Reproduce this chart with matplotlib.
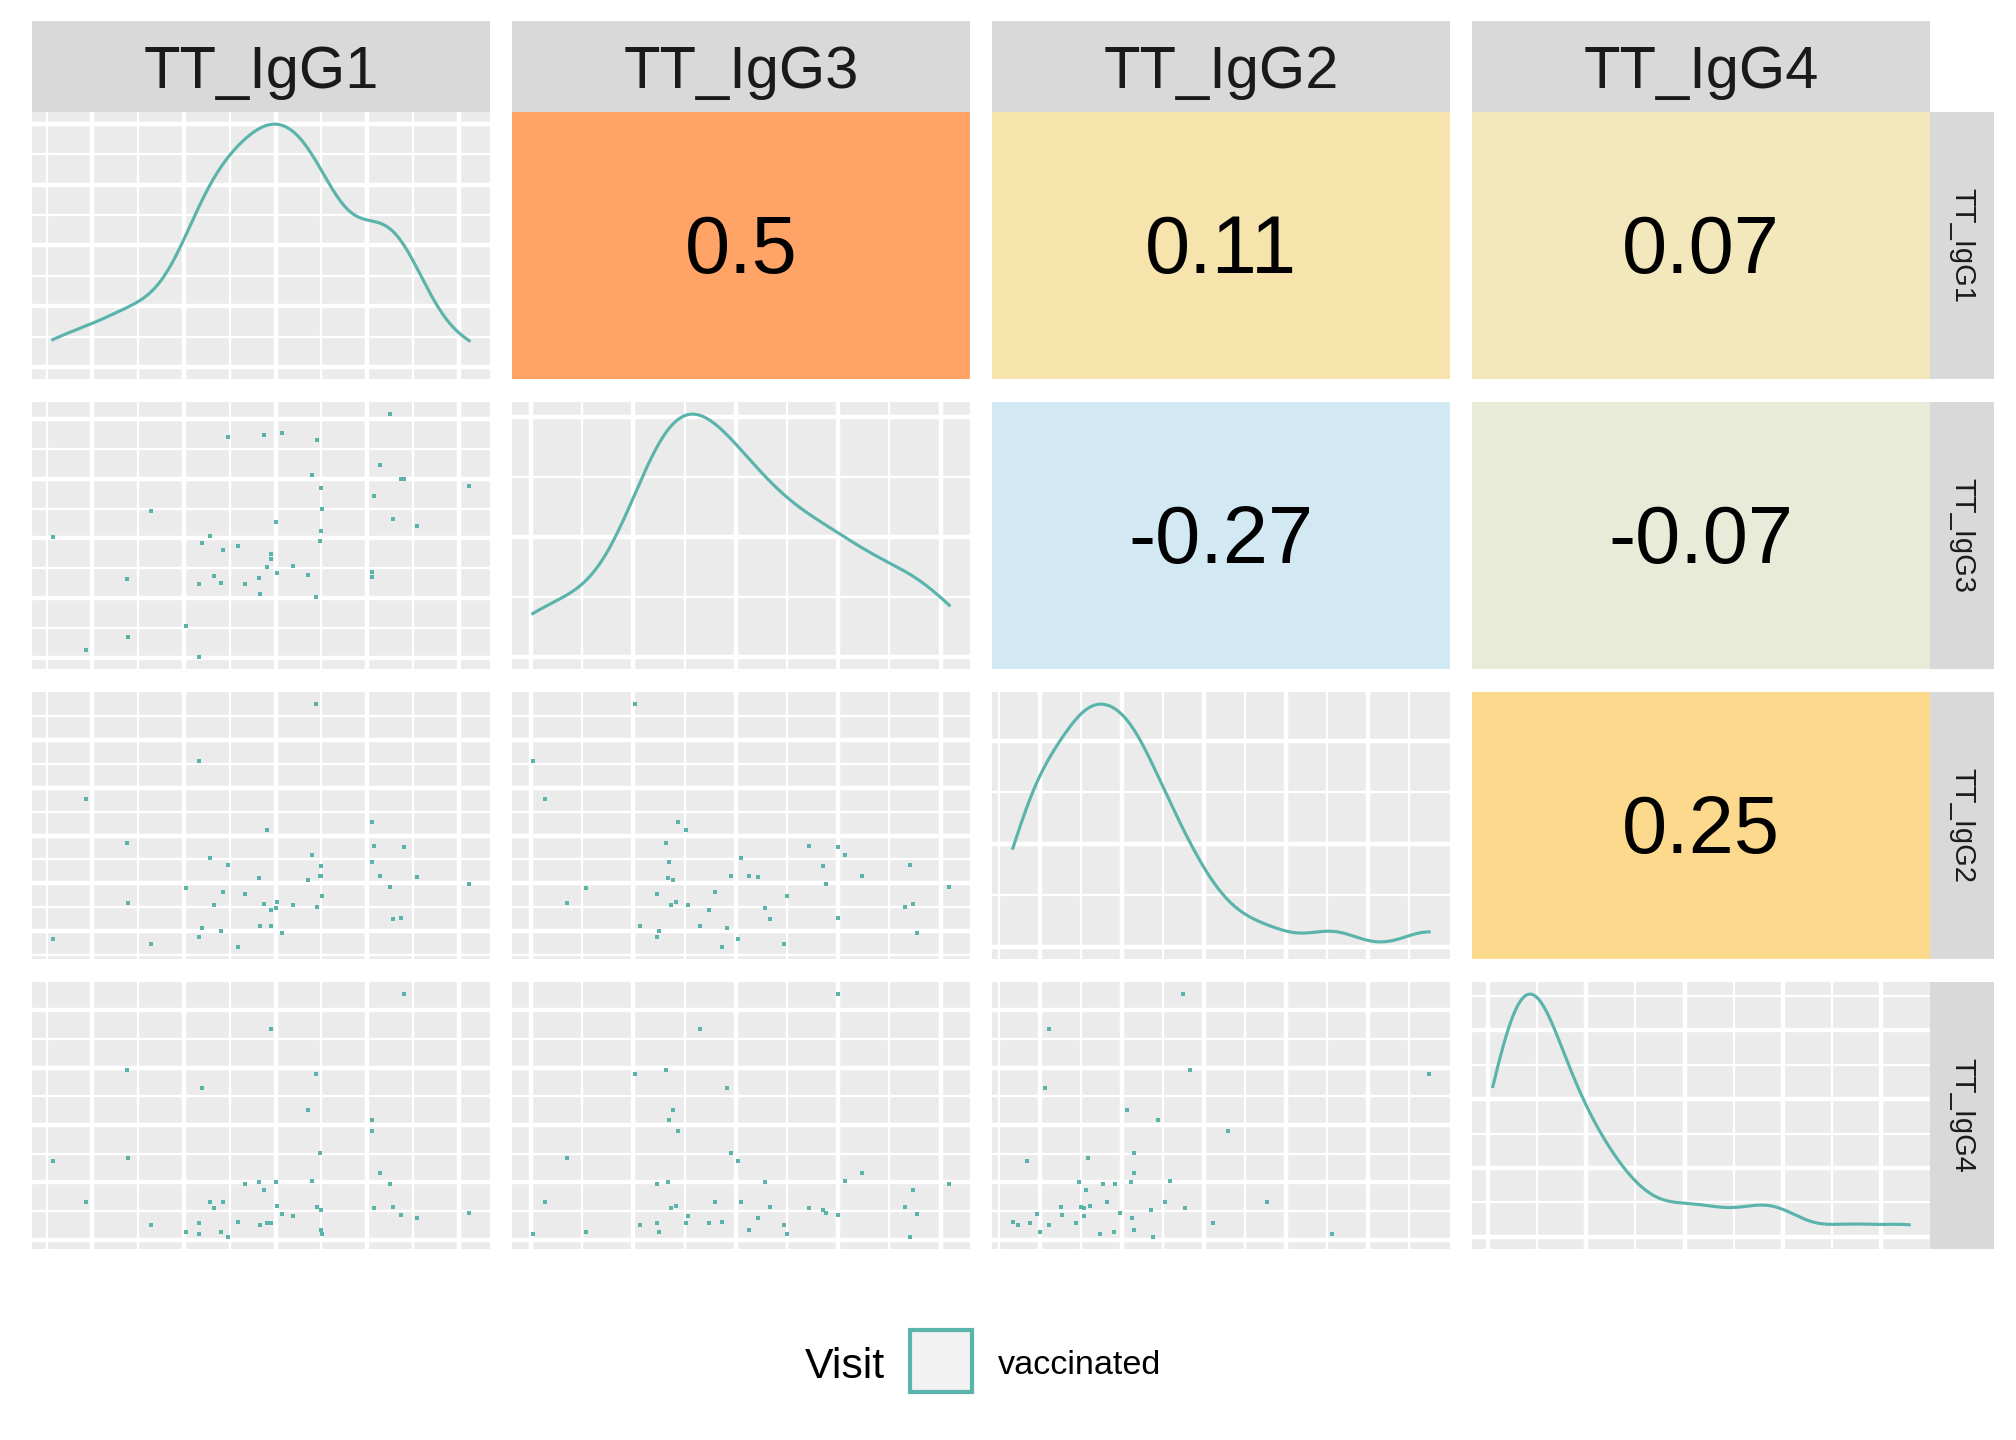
import numpy as np
import matplotlib
matplotlib.use("Agg")
import matplotlib.pyplot as plt
from matplotlib.patches import Rectangle
from matplotlib.ticker import MaxNLocator

plt.rcParams['font.family'] = ['Liberation Sans', 'DejaVu Sans']

# variables (order of the pairs matrix)
var_names = ["TT_IgG1", "TT_IgG3", "TT_IgG2", "TT_IgG4"]

# values (same subjects in every array)
igg1 = [0.567, 0.927, 1.375, 1.386, 1.638, 2.020, 2.162, 2.162, 2.195, 2.282,
        2.326, 2.403, 2.424, 2.479, 2.588, 2.665, 2.818, 2.829, 2.872, 2.905,
        2.949, 2.949, 3.004, 3.015, 3.069, 3.189, 3.353, 3.397, 3.441, 3.452,
        3.485, 3.495, 3.495, 3.506, 4.053, 4.053, 4.075, 4.140, 4.250, 4.282,
        4.370, 4.403, 4.545, 5.113]
igg3 = [3.017, 1.133, 2.317, 1.350, 3.467, 1.533, 1.017, 2.233, 2.917, 3.050,
        2.367, 2.250, 2.800, 4.700, 2.867, 2.233, 2.333, 2.067, 4.733, 2.517,
        2.733, 2.650, 3.283, 2.417, 4.767, 2.533, 2.383, 4.067, 2.017, 4.650,
        2.950, 3.850, 3.133, 3.500, 2.433, 2.350, 3.717, 4.233, 5.083, 3.333,
        4.000, 4.000, 3.217, 3.883]
igg2 = [0.841, 3.772, 2.836, 1.589, 0.737, 1.901, 4.562, 0.882, 1.069, 2.525,
        1.547, 1.007, 1.818, 2.379, 0.674, 1.776, 2.109, 1.111, 1.568, 3.107,
        1.444, 1.111, 1.485, 1.610, 0.965, 1.547, 2.067, 2.587, 5.747, 1.506,
        2.150, 2.358, 2.150, 1.735, 3.294, 2.441, 2.774, 2.150, 1.922, 1.256,
        1.277, 2.753, 2.130, 1.984]
igg4 = [2.370, 1.659, 3.965, 2.422, 1.260, 1.139, 1.104, 1.295, 3.653, 1.659,
        1.555, 1.139, 1.659, 1.052, 1.312, 1.971, 2.006, 1.260, 1.867, 1.295,
        1.295, 4.676, 2.006, 1.590, 1.451, 1.416, 3.272, 2.023, 3.896, 1.572,
        2.509, 1.520, 1.173, 1.104, 2.890, 3.081, 1.555, 2.162, 1.971, 1.572,
        1.434, 5.283, 1.382, 1.468]

# correlations shown in the upper triangle: (row, col, value)
corr_cells = [(0, 1, 0.5), (0, 2, 0.11), (0, 3, 0.07),
              (1, 2, -0.27), (1, 3, -0.07), (2, 3, 0.25)]
corr_fill = ["#FFA366", "#F7E4AD", "#F2E8BC", "#D2E9F3", "#E8EBD7", "#FCD98C"]

legend_title = "Visit"
legend_label = "vaccinated"

data = [np.array(igg1), np.array(igg3), np.array(igg2), np.array(igg4)]

teal = "#5AB4AC"
W, H = 2016, 1440
fig = plt.figure(figsize=(W / 300, H / 300), dpi=300)

col_left = [32, 512, 992, 1472]
row_top = [112, 402, 692, 982]
pw, ph = 458, 267


def rect(l, t, w, h):
    return [l / W, 1 - (t + h) / H, w / W, h / H]


def limits(v):
    lo, hi = v.min(), v.max()
    pad = 0.05 * (hi - lo)
    return lo - pad, hi + pad


def grid_breaks(lo, hi, step):
    eps = 0.01 * (hi - lo)
    k0 = np.ceil((lo + eps) / step)
    k1 = np.floor((hi - eps) / step)
    return np.arange(k0, k1 + 1) * step


def style_axes(ax, xmaj, xmin, ymaj, ymin):
    ax.set_facecolor("#EBEBEB")
    for s in ax.spines.values():
        s.set_visible(False)
    ax.set_xticks(xmaj)
    ax.set_xticks(xmin, minor=True)
    ax.set_yticks(ymaj)
    ax.set_yticks(ymin, minor=True)
    ax.grid(which="major", color="white", lw=1.07)
    ax.grid(which="minor", color="white", lw=0.53)
    ax.tick_params(which="both", length=0, labelbottom=False, labelleft=False)
    ax.set_axisbelow(True)


def kde(v, n=512):
    v = np.asarray(v)
    sd = v.std(ddof=1)
    q75, q25 = np.percentile(v, [75, 25])
    bw = 0.9 * min(sd, (q75 - q25) / 1.34) * len(v) ** -0.2
    xs = np.linspace(v.min(), v.max(), n)
    d = np.exp(-0.5 * ((xs[:, None] - v[None, :]) / bw) ** 2).sum(1)
    d /= len(v) * bw * np.sqrt(2 * np.pi)
    return xs, d


for i in range(4):
    for j in range(4):
        ax = fig.add_axes(rect(col_left[j], row_top[i], pw, ph))
        xlo, xhi = limits(data[j])
        xmaj = grid_breaks(xlo, xhi, 1.0)
        xmin = np.setdiff1d(grid_breaks(xlo, xhi, 0.5), xmaj)
        if i == j:
            xs, d = kde(data[j])
            ylo, yhi = -0.05 * d.max(), 1.05 * d.max()
            loc = MaxNLocator(nbins=4, steps=[1, 2, 2.5, 5, 10])
            ymaj = [b for b in loc.tick_values(0, d.max()) if ylo <= b <= yhi]
            st = ymaj[1] - ymaj[0]
            ymin = [b for b in np.arange(ymaj[0] - st / 2, yhi, st) if ylo <= b <= yhi]
            style_axes(ax, xmaj, xmin, ymaj, ymin)
            ax.plot(xs, d, color=teal, lw=0.75)
            ax.set_xlim(xlo, xhi)
            ax.set_ylim(ylo, yhi)
        elif i > j:
            ylo, yhi = limits(data[i])
            ymaj = grid_breaks(ylo, yhi, 1.0)
            ymin = np.setdiff1d(grid_breaks(ylo, yhi, 0.5), ymaj)
            style_axes(ax, xmaj, xmin, ymaj, ymin)
            ax.plot(data[j], data[i], ls="none", marker="s", ms=1.15,
                    mew=0, color=teal)
            ax.set_xlim(xlo, xhi)
            ax.set_ylim(ylo, yhi)
        else:
            k = [c[:2] for c in corr_cells].index((i, j))
            ax.set_facecolor(corr_fill[k])
            for s in ax.spines.values():
                s.set_visible(False)
            ax.set_xticks([])
            ax.set_yticks([])
            ax.text(0.5, 0.475, f"{corr_cells[k][2]:g}", ha="center", va="center",
                    fontsize=19.5, color="black", transform=ax.transAxes)

# top strips
for j in range(4):
    sa = fig.add_axes(rect(col_left[j], 21, pw, 91))
    sa.set_facecolor("#D9D9D9")
    sa.set_xticks([])
    sa.set_yticks([])
    for s in sa.spines.values():
        s.set_visible(False)
    sa.text(0.5, 0.43, var_names[j], ha="center", va="center", fontsize=14.3,
            color="#1A1A1A", transform=sa.transAxes)

# right strips
for i in range(4):
    sa = fig.add_axes(rect(1930, row_top[i], 64, ph))
    sa.set_facecolor("#D9D9D9")
    sa.set_xticks([])
    sa.set_yticks([])
    for s in sa.spines.values():
        s.set_visible(False)
    sa.text(0.5, 0.5, var_names[i], ha="center", va="center", fontsize=7,
            rotation=-90, color="#1A1A1A", transform=sa.transAxes)

# legend
fig.text(885 / W, 1 - 1367 / H, legend_title, ha="right", va="center", fontsize=10.3)
fig.patches.append(Rectangle((910 / W, 1 - 1392 / H), 62 / W, 62 / H,
                             transform=fig.transFigure, facecolor="#F2F2F2",
                             edgecolor=teal, lw=1.0))
fig.text(998 / W, 1 - 1366 / H, legend_label, ha="left", va="center", fontsize=8.2)

fig.savefig("out.png", dpi=300, facecolor="white")
